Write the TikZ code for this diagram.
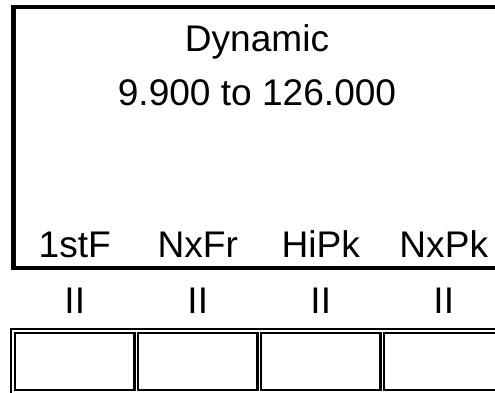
\documentclass[tikz,border=0pt]{standalone}
\usepackage{fontspec}
\setmainfont{Liberation Sans}
\usepackage{tikz}
\tikzset{
  screentext/.style={anchor=base,inner sep=0pt,font=\fontsize{21.1}{25}\selectfont},
  screenframe/.style={line width=2.3pt},
  keyframe/.style={line width=1.15pt}
}

\begin{document}
\begin{tikzpicture}
            \clip (0,0)rectangle(9.9,-7.84);
            \fill [white] (0,0)rectangle(9.9,-7.84);
            \draw [screenframe](0.27,-0.14)rectangle(10.3,-5.36);
            \node [screentext] (mode) at (5.14,-1.02){Dynamic};
            \node [screentext] (range) at (5.14,-2.10){9.900 to 126.000};
            \node [screentext] (firstf) at (1.495,-5.14){1stF};
            \node [screentext] (nxfr) at (3.955,-5.14){NxFr};
            \node [screentext] (hipk) at (6.415,-5.14){HiPk};
            \node [screentext] (nxpk) at (8.875,-5.14){NxPk};
            \node [screentext] (linka) at (1.495,-6.26){II};
            \node [screentext] (linkb) at (3.955,-6.26){II};
            \node [screentext] (linkc) at (6.415,-6.26){II};
            \node [screentext] (linkd) at (8.875,-6.26){II};
            \draw [keyframe](0.22,-6.58)rectangle(10.3,-8.1);
            \draw [keyframe](0.30,-6.66)rectangle(2.69,-7.79);
            \draw [keyframe](2.76,-6.66)rectangle(5.15,-7.79);
            \draw [keyframe](5.22,-6.66)rectangle(7.61,-7.79);
            \draw [keyframe](7.68,-6.66)rectangle(10.07,-7.79);
        \end{tikzpicture}
\end{document}
